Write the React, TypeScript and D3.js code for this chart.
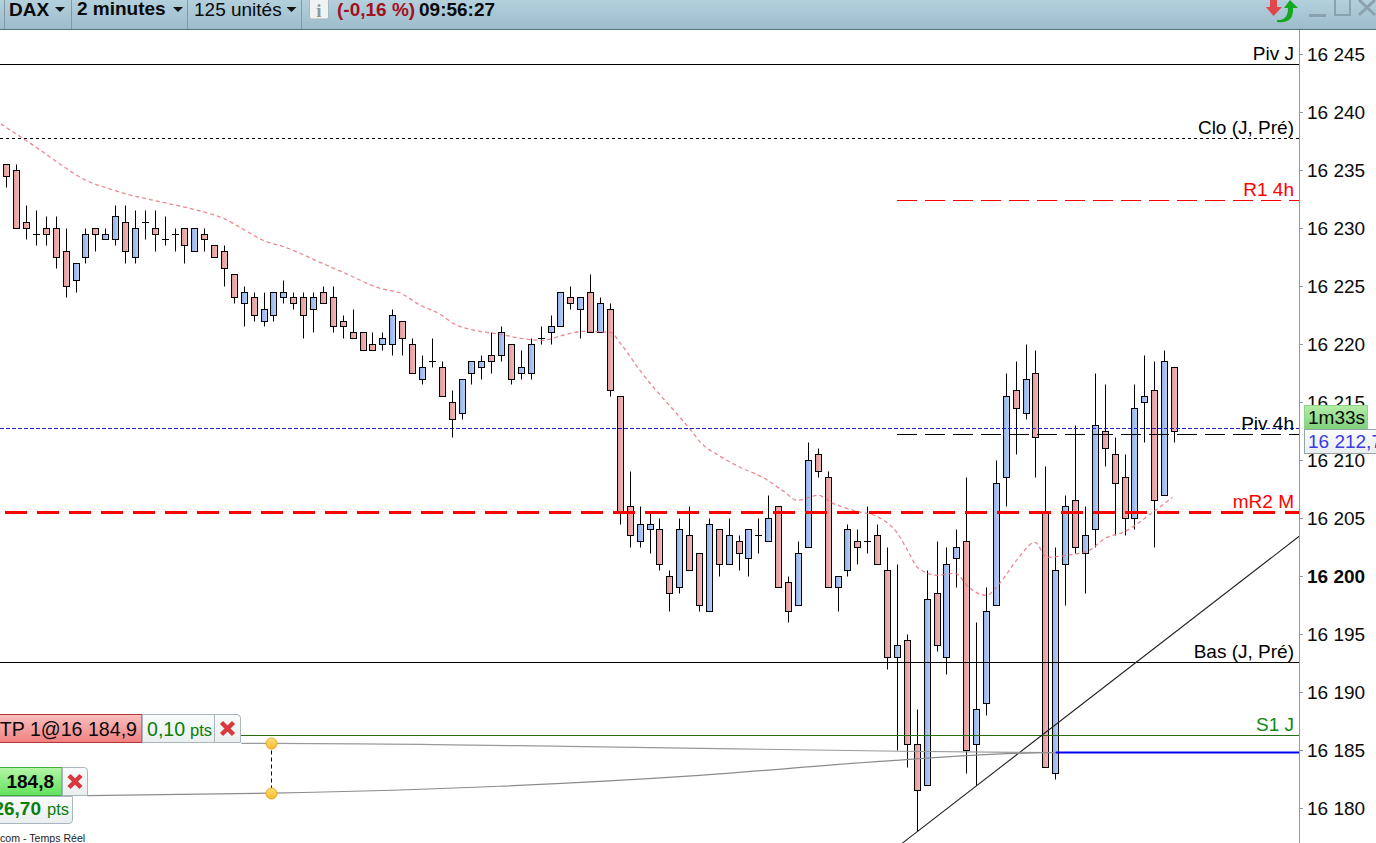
import { curveMonotoneX, formatLocale, line, scaleLinear } from "d3";
import React from "react";

const width = 1376;
const height = 843;
const axisX = 1299;
const chartTop = 30;

const opens = [
  16235.5, 16235, 16230.5, 16229.5, 16230, 16230, 16228, 16225.5, 16227.5, 16230,
  16229, 16229, 16230.5, 16227.5, 16230.5, 16230, 16229, 16229.5, 16230, 16228,
  16229.5, 16228.5, 16228, 16226, 16223.5, 16224, 16222, 16222.5, 16224, 16224,
  16224, 16223, 16224.5, 16224, 16222, 16221, 16221, 16220, 16220, 16220,
  16222, 16220, 16217, 16218.5, 16218, 16215, 16214, 16217.5, 16218, 16219,
  16219, 16220, 16217.5, 16217.5, 16220.5, 16221, 16221.5, 16224, 16223, 16224.5,
  16221, 16223, 16215.5, 16206, 16203, 16204, 16204, 16200, 16199, 16203.5,
  16202, 16197, 16204, 16201, 16203, 16201.5, 16203.5, 16203, 16206, 16199.5,
  16197.5, 16202.5, 16210.5, 16208.5, 16199, 16200.5, 16203, 16203, 16203.5, 16200.5,
  16193, 16194.5, 16185.5, 16182, 16198.5, 16193, 16201.5, 16203, 16185.5, 16189,
  16197.5, 16208.5, 16216, 16214, 16217.5, 16205.5, 16183, 16201, 16206.5, 16202,
  16204, 16212.5, 16210.5, 16208.5, 16205, 16215, 16216, 16207, 16218,
];
const closes = [
  16234.5, 16230, 16230, 16229.5, 16229.5, 16227.5, 16225, 16227, 16229.5, 16229.5,
  16229.5, 16231, 16228, 16230, 16230.5, 16229.5, 16229, 16229.5, 16228.5, 16230,
  16229, 16227.5, 16226.5, 16224, 16224.5, 16222.5, 16223, 16224.5, 16224.5, 16223.5,
  16222.5, 16224, 16223.5, 16221.5, 16221.5, 16220.5, 16219.5, 16219.5, 16220.5, 16222.5,
  16220.5, 16217.5, 16218, 16218.5, 16215.5, 16213.5, 16217, 16218.5, 16218.5, 16218.5,
  16221, 16217, 16218, 16220, 16220.5, 16221.5, 16224.5, 16223.5, 16224, 16221,
  16223.5, 16216, 16205.5, 16203.5, 16204.5, 16204.5, 16201, 16198.5, 16204, 16200.5,
  16197.5, 16204.5, 16201, 16203.5, 16202, 16204, 16203.5, 16205, 16199, 16197,
  16202, 16210, 16209, 16199, 16200, 16204, 16202.5, 16203, 16201, 16193,
  16194, 16185.5, 16181.5, 16198, 16194, 16201, 16202.5, 16185, 16188.5, 16197,
  16208, 16215.5, 16214.5, 16217, 16212, 16183.5, 16200.5, 16206, 16202.5, 16203.5,
  16213, 16211, 16208, 16205, 16214.5, 16215.5, 16206.5, 16218.5, 16212.5,
];
const highs = [
  16235.5, 16235.5, 16232, 16231.5, 16231, 16231, 16230, 16227, 16230, 16230,
  16230, 16232, 16232, 16231.5, 16231.5, 16231.5, 16231, 16230, 16230, 16230,
  16230, 16228.5, 16228.5, 16226, 16225, 16224.5, 16224.5, 16224.5, 16225.5, 16224.5,
  16224.5, 16224.5, 16225, 16225, 16222.5, 16223, 16221, 16221, 16221, 16223,
  16222, 16220.5, 16219, 16220.5, 16218.5, 16216, 16217, 16218.5, 16219, 16221,
  16221.5, 16220, 16219.5, 16220.5, 16221.5, 16222.5, 16224.5, 16225, 16224, 16226,
  16224, 16223.5, 16215.5, 16209, 16206, 16205.5, 16205, 16200.5, 16205, 16206,
  16202, 16205, 16204, 16205, 16203.5, 16204, 16205, 16207, 16206, 16200,
  16203, 16211.5, 16211, 16209, 16200, 16204.5, 16204, 16206, 16204.5, 16202.5,
  16201, 16195, 16188.5, 16200.5, 16203, 16202.5, 16204, 16208.5, 16196, 16199,
  16210, 16217.5, 16218.5, 16220, 16219.5, 16209.5, 16202.5, 16207, 16213, 16206,
  16217.5, 16216.5, 16212, 16210.5, 16216.5, 16219, 16218.5, 16219.5, 16218,
];
const lows = [
  16233.5, 16230, 16229, 16228.5, 16228.5, 16226.5, 16224, 16224.5, 16227, 16228,
  16229, 16228.5, 16227, 16227, 16229, 16228, 16228.5, 16228, 16227, 16228,
  16228, 16227.5, 16225, 16223.5, 16221.5, 16222, 16221.5, 16222, 16223.5, 16223,
  16220.5, 16221, 16223.5, 16221, 16220.5, 16220.5, 16219.5, 16219.5, 16219.5, 16219,
  16219, 16217.5, 16216.5, 16218, 16215.5, 16212, 16213.5, 16216.5, 16217, 16217.5,
  16218.5, 16216.5, 16217, 16217, 16220, 16220, 16221.5, 16223, 16220.5, 16221,
  16221, 16215.5, 16204.5, 16202.5, 16202.5, 16202, 16200.5, 16197, 16198.5, 16200.5,
  16197, 16197, 16200, 16201, 16200.5, 16200, 16202, 16203, 16199, 16196,
  16197.5, 16202.5, 16208.5, 16199, 16197, 16200, 16201, 16202, 16201, 16192,
  16185, 16183.5, 16178, 16182, 16193.5, 16191.5, 16199, 16183, 16182, 16188,
  16197.5, 16206, 16210.5, 16213.5, 16208.5, 16183.5, 16182.5, 16197.5, 16202, 16198.5,
  16202.5, 16209.5, 16203.5, 16203.5, 16204, 16211.5, 16202.5, 16207, 16211.5,
];

// moving average, read at these bar positions
const maBars = [
  -0.6, 3.7, 5.7, 7.8, 10.2, 12.2, 16.2, 19.6, 21.9, 23.9, 25.9, 28.4, 31.2, 34, 37.7, 39.8,
  41.8, 43.8, 45.1, 47.8, 49.9, 51.9, 54.2, 56.2, 58.3, 61, 62, 63.9, 69.3, 70.1, 72.1, 74.1,
  76.4, 78.5, 79.9, 82, 83.5, 85.9, 87.9, 90, 91.3, 92, 94.1, 95.8, 97.3, 99, 100.4, 102.2,
  103.9, 105.1, 107.1, 109.2, 111.2, 112.8, 115.8, 117.8,
];
const maValues = [
  16239, 16236.55, 16235.34, 16234.22, 16233.45, 16232.93, 16232.16, 16231.47, 16230.86, 16229.91,
  16228.97, 16228.28, 16227.24, 16226.2, 16224.83, 16224.4, 16223.36, 16222.59, 16221.81, 16221.12,
  16220.86, 16220.52, 16220.34, 16220.78, 16221.12, 16221.03, 16220.09, 16217.84, 16212.41, 16211.55,
  16210.34, 16209.4, 16208.53, 16207.33, 16206.55, 16206.98, 16206.29, 16205.6, 16205.17, 16203.71,
  16201.81, 16200.78, 16200.09, 16200.26, 16198.97, 16198.36, 16199.48, 16201.55, 16202.93, 16201.64,
  16201.81, 16202.16, 16203.36, 16203.79, 16205.52, 16206.81,
];

const priceTicks = [
  16245, 16240, 16235, 16230, 16225, 16220, 16215, 16210, 16205, 16200, 16195, 16190, 16185, 16180,
];
const boldTick = 16200;

const pivJ = 16244.09;
const cloJ = 16237.76;
const r14h = 16232.37;
const lastPrice = 16212.7;
const piv4h = 16212.2;
const mR2M = 16205.47;
const basJ = 16192.54;
const s1J = 16186.25;
const orderPrice = 16184.8;

const orderStartBar = 106;

const trendBars = [90.5, 130.6];
const trendValues = [16177, 16203.45];

const tpBars = [23.7, 26.7, 60, 90.3, 106];
const tpValues = [16185.6, 16185.6, 16185.3, 16184.92, 16184.8];
const stopBars = [8.1, 26.7, 49.8, 70, 88.2, 102, 106];
const stopValues = [16181.1, 16181.3, 16181.9, 16182.84, 16184.05, 16184.74, 16184.8];

const fmt = formatLocale({
  decimal: ",",
  thousands: " ",
  grouping: [3],
  currency: ["", ""],
});
const fmtPrice = fmt.format(",");
const fmtLast = fmt.format(",.1f");

const xScale = scaleLinear().domain([0, 118]).range([6.8, 1174.5]);
const yScale = scaleLinear().domain([16245, 16180]).range([54.3, 808.3]);
const crisp = (v: number) => Math.floor(v) + 0.5;

const font = "'Liberation Sans', Arial, sans-serif";
const fs = 19;

const seriesLine = (curved: boolean) => {
  const l = line<[number, number]>()
    .x((d) => xScale(d[0]))
    .y((d) => yScale(d[1]));
  return curved ? l.curve(curveMonotoneX) : l;
};
const zip = (a: number[], b: number[]) => a.map((v, i) => [v, b[i]] as [number, number]);

function Candle({ i }: { i: number }) {
  const x = crisp(xScale(i));
  const top = Math.max(opens[i], closes[i]);
  const bottom = Math.min(opens[i], closes[i]);
  const yTop = crisp(yScale(top));
  const yBottom = crisp(yScale(bottom));
  const up = closes[i] > opens[i];
  return (
    <g>
      <line x1={x} x2={x} y1={crisp(yScale(highs[i]))} y2={crisp(yScale(lows[i]))} stroke="#000" />
      {top === bottom ? (
        <line x1={x - 3.5} x2={x + 3.5} y1={yTop} y2={yTop} stroke="#000" />
      ) : (
        <rect
          x={x - 3}
          y={yTop}
          width={6}
          height={yBottom - yTop}
          fill={up ? "url(#bodyUp)" : "url(#bodyDown)"}
          stroke="#000"
        />
      )}
    </g>
  );
}

function Level({
  value,
  color,
  from = 0,
  dash,
  sw = 1,
  label,
}: {
  value: number;
  color: string;
  from?: number;
  dash?: string;
  sw?: number;
  label?: string;
}) {
  const y = crisp(yScale(value));
  return (
    <g>
      <line x1={from} x2={axisX} y1={y} y2={y} stroke={color} strokeWidth={sw} strokeDasharray={dash} />
      {label && (
        <text x={1294} y={y - 4.5} textAnchor="end" fontSize={fs} fill={color === "#2a6e14" ? "#0f8a0f" : color}>
          {label}
        </text>
      )}
    </g>
  );
}

function OrderButton({ x, y, w, h }: { x: number; y: number; w: number; h: number }) {
  const cx = x + w / 2;
  const cy = y + h / 2;
  return (
    <g>
      <path
        d={`M${x + 0.5} ${y + 0.5} H${x + w - 4} Q${x + w - 0.5} ${y + 0.5} ${x + w - 0.5} ${y + 4} V${y + h - 0.5} H${x + 0.5} Z`}
        fill="url(#chip)"
        stroke="#a9b6bd"
      />
      <path
        d={`M${cx - 6} ${cy - 6} L${cx + 6} ${cy + 6} M${cx + 6} ${cy - 6} L${cx - 6} ${cy + 6}`}
        stroke="#d8393f"
        strokeWidth={4.5}
      />
    </g>
  );
}

function Header() {
  const separators = [4, 71, 187, 301];
  const arrows = [60, 178, 291.5];
  return (
    <g>
      <rect x={0} y={0} width={width} height={29} fill="url(#header)" />
      <line x1={0} x2={width} y1={29.5} y2={29.5} stroke="#56707c" />
      {separators.map((x) => (
        <line key={x} x1={x + 0.5} x2={x + 0.5} y1={0} y2={29} stroke="#7f9aa7" />
      ))}
      {arrows.map((x) => (
        <path key={x} d={`M${x - 5} 7 H${x + 5} L${x} 12 Z`} fill="#111" />
      ))}
      <text x={9} y={16} fontSize={fs} fontWeight="bold" fill="#0a0a0a">DAX</text>
      <text x={77} y={15} fontSize={fs} fontWeight="bold" fill="#0a0a0a">2 minutes</text>
      <text x={194} y={16} fontSize={fs} fill="#0a0a0a">125 unités</text>
      <rect x={309.5} y={-2} width={19} height={21} rx={2} fill="#f1f3f3" stroke="#a4b8c0" />
      <text x={319} y={17} fontSize={19} fontWeight="bold" textAnchor="middle" fill="#8d9a9c" fontFamily="'Liberation Serif', serif">i</text>
      <text x={337} y={16} fontSize={fs} fontWeight="bold" fill="#a3101f">(-0,16 %)</text>
      <text x={419} y={16} fontSize={fs} fontWeight="bold" fill="#0a0a0a">09:56:27</text>

      <path d="M1270 0 H1277 L1277 7 L1282 7 L1273.5 16 L1266 7 L1270 7 Z" fill="#e2464a" />
      <path d="M1277 20 Q1288 21 1288 8 L1284 8 L1290 0 L1298 8 L1293 8 Q1294 24 1277 22 Z" fill="#14a81e" />
      <rect x={1309} y={14} width={17} height={3} fill="#8aa2ad" />
      <rect x={1335} y={-1} width={15} height={16} fill="none" stroke="#8aa2ad" strokeWidth={2} />
      <path d="M1359 0 L1375 15 M1375 0 L1359 15" stroke="#8aa2ad" strokeWidth={3} />
    </g>
  );
}

function Orders() {
  const upper = crisp(yScale(tpValues[1]));
  const lower = crisp(yScale(stopValues[1]));
  const handleX = crisp(xScale(tpBars[1]));
  return (
    <g>
      <path d={seriesLine(true)(zip(tpBars, tpValues)) ?? ""} fill="none" stroke="#9a9a9a" strokeWidth={1.2} />
      <path d={seriesLine(true)(zip(stopBars, stopValues)) ?? ""} fill="none" stroke="#8c8c8c" strokeWidth={1.2} />

      <rect x={-2} y={714.5} width={144} height={28} fill="url(#tp)" stroke="#b73535" />
      <text x={137} y={736} textAnchor="end" fontSize={19.6} fill="#0a0a0a">TP 1@16 184,9</text>
      <rect x={142.5} y={714.5} width={72} height={28} fill="url(#chip)" stroke="#a9b6bd" />
      <text x={147} y={736} fontSize={19.6} fill="#0a7d0a">0,10</text>
      <text x={190} y={736} fontSize={16.5} fill="#0a7d0a">pts</text>
      <OrderButton x={214} y={714} w={27} h={29} />

      <rect x={-2} y={767.5} width={64} height={28} fill="url(#stop)" stroke="#3fae3f" />
      <text x={54} y={788} textAnchor="end" fontSize={fs} fontWeight="bold" fill="#0a0a0a">184,8</text>
      <OrderButton x={62} y={767} w={26} h={29} />
      <path d="M-2 796.5 H72.5 V820 Q72.5 823.5 69 823.5 H-2" fill="url(#chip)" stroke="#a9b6bd" />
      <text x={41} y={815} textAnchor="end" fontSize={fs} fontWeight="bold" fill="#0a7d0a">26,70</text>
      <text x={47} y={815} fontSize={16.5} fill="#0a7d0a">pts</text>

      <line x1={handleX} x2={handleX} y1={upper} y2={lower} stroke="#000" strokeDasharray="4 3" />
      {[upper, lower].map((cy) => (
        <circle key={cy} cx={handleX} cy={cy} r={5.5} fill="url(#handle)" stroke="#e6a823" />
      ))}

      <text x={0} y={842} fontSize={10.6} fill="#222">com - Temps Réel</text>
    </g>
  );
}

function PriceAxis() {
  return (
    <g>
      <line x1={axisX + 0.5} x2={axisX + 0.5} y1={chartTop} y2={height} stroke="#8b9ba3" />
      {priceTicks.map((t) => {
        const y = crisp(yScale(t));
        return (
          <g key={t}>
            <line x1={axisX + 1} x2={axisX + 4} y1={y} y2={y} stroke="#8b9ba3" />
            <text
              x={1307}
              y={y + 6.5}
              fontSize={fs}
              fontWeight={t === boldTick ? "bold" : "normal"}
              fill="#0a0a0a"
            >
              {fmtPrice(t)}
            </text>
          </g>
        );
      })}
      <rect x={1304.5} y={405.5} width={63} height={24} fill="url(#timer)" stroke="#8fd48a" />
      <text x={1308} y={424} fontSize={fs} fill="#0a0a0a">1m33s</text>
      <rect x={1304.5} y={429.5} width={80} height={24} fill="url(#chip)" stroke="#94a4ab" />
      <text x={1308} y={448} fontSize={fs} fill="#3b3be0">{fmtLast(lastPrice)}</text>
    </g>
  );
}

export default function App() {
  const orderY = crisp(yScale(orderPrice));
  return (
    <div style={{ position: "fixed", left: 0, top: 0, width, height, overflow: "hidden", background: "#fff" }}>
      <svg
        width={width}
        height={height}
        viewBox={`0 0 ${width} ${height}`}
        style={{ display: "block", fontFamily: font }}
      >
        <defs>
          <linearGradient id="bodyDown" x1="0" x2="1" y1="0" y2="0">
            <stop offset="0" stopColor="#df9797" />
            <stop offset="1" stopColor="#f3bcbc" />
          </linearGradient>
          <linearGradient id="bodyUp" x1="0" x2="1" y1="0" y2="0">
            <stop offset="0" stopColor="#8fafe8" />
            <stop offset="1" stopColor="#bdd2f5" />
          </linearGradient>
          <linearGradient id="header" x1="0" x2="0" y1="0" y2="1">
            <stop offset="0" stopColor="#b3d0dc" />
            <stop offset="1" stopColor="#9dbccb" />
          </linearGradient>
          <linearGradient id="chip" x1="0" x2="0" y1="0" y2="1">
            <stop offset="0" stopColor="#fbfcfc" />
            <stop offset="1" stopColor="#e9eeef" />
          </linearGradient>
          <linearGradient id="tp" x1="0" x2="0" y1="0" y2="1">
            <stop offset="0" stopColor="#fcc0c0" />
            <stop offset="1" stopColor="#ef8080" />
          </linearGradient>
          <linearGradient id="stop" x1="0" x2="0" y1="0" y2="1">
            <stop offset="0" stopColor="#b4f5a8" />
            <stop offset="1" stopColor="#62e25c" />
          </linearGradient>
          <linearGradient id="timer" x1="0" x2="0" y1="0" y2="1">
            <stop offset="0" stopColor="#b4eda8" />
            <stop offset="1" stopColor="#7dd07a" />
          </linearGradient>
          <linearGradient id="handle" x1="0" x2="0" y1="0" y2="1">
            <stop offset="0" stopColor="#ffe07a" />
            <stop offset="1" stopColor="#fbb92a" />
          </linearGradient>
        </defs>

        {opens.map((_, i) => (
          <Candle key={i} i={i} />
        ))}

        <path
          d={seriesLine(true)(zip(maBars, maValues)) ?? ""}
          fill="none"
          stroke="#e8737c"
          strokeWidth={1.3}
          strokeOpacity={0.85}
          strokeDasharray="4 3"
        />

        <Level value={pivJ} color="#000" label="Piv J" />
        <Level value={cloJ} color="#000" dash="3 3" label="Clo (J, Pré)" />
        <Level value={r14h} color="#f00" from={897} dash="20 8" label="R1 4h" />
        <Level value={lastPrice} color="#2222b8" dash="4 2" />
        <Level value={piv4h} color="#000" from={897} dash="20 8" label="Piv 4h" />
        <Level value={mR2M} color="#f00" from={5} dash="22 10" sw={3} label="mR2 M" />
        <Level value={basJ} color="#000" label="Bas (J, Pré)" />
        <Level value={s1J} color="#2a6e14" from={241} label="S1 J" />

        <path
          d={seriesLine(false)(zip(trendBars, trendValues)) ?? ""}
          fill="none"
          stroke="#222"
          strokeWidth={1.1}
        />

        <Orders />
        <line x1={xScale(orderStartBar)} x2={axisX} y1={orderY} y2={orderY} stroke="#0000f0" strokeWidth={2} />

        <PriceAxis />
        <Header />
      </svg>
    </div>
  );
}
